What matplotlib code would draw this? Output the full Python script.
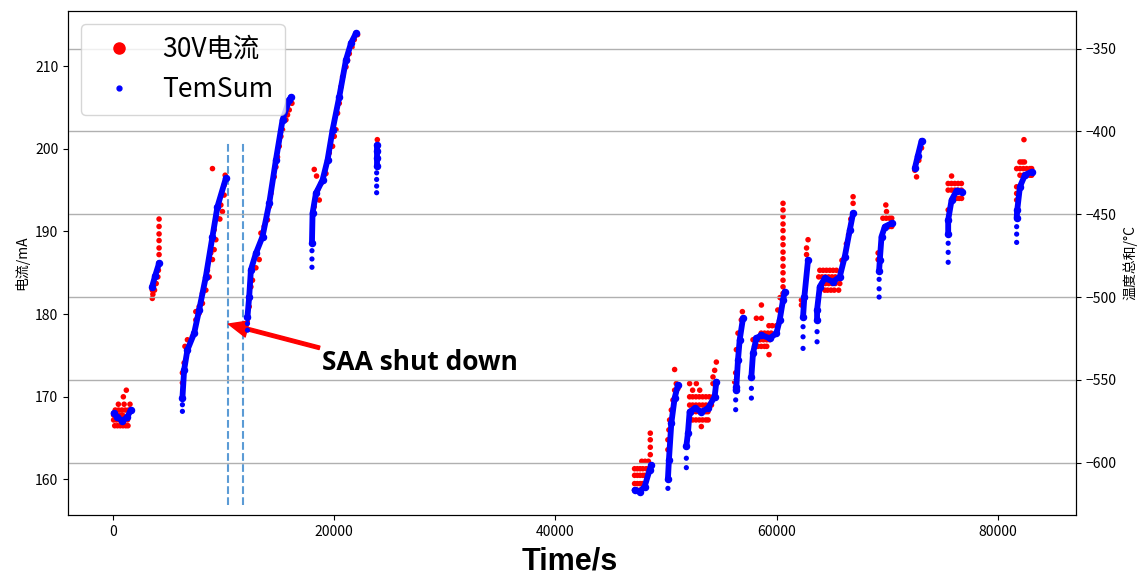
import numpy as np
import matplotlib
matplotlib.use("Agg")
import matplotlib.pyplot as plt
from matplotlib.lines import Line2D

plt.rcParams['font.family'] = ['Noto Sans CJK SC', 'DejaVu Sans']
plt.rcParams['font.size'] = 10

# TemSum (right axis), one list of (time s, value) per run
blue_runs = [
    [(50, -570.2), (400, -572.6), (850, -574.8), (1300, -572.2), (1600, -568.2)],
    [(3530, -493.7), (3800, -487.3), (4160, -479.6)],
    [(6270, -561.1), (6425, -544.0), (6724, -531.9), (7330, -521.9), (7783, -507.8),
     (8389, -487.7), (8987, -463.5), (9439, -445.4), (10199, -428.3)],
    [(12154, -511.8), (12308, -499.8), (12462, -483.6), (12914, -473.6), (13512, -463.5),
     (14118, -443.4), (14724, -417.2), (15322, -393.1), (15928, -381.0), (16082, -379.3)],
    [(17982, -467.5), (18037, -449.4), (18344, -437.3), (18942, -429.3), (19394, -417.2),
     (19847, -399.1), (20453, -379.0), (21059, -356.8), (21512, -346.7), (21964, -340.7)],
    [(23830, -408.2), (23830, -412.0), (23830, -416.0), (23830, -421.0)],
    [(47150, -616.5), (47603, -617.5), (48055, -614.5), (48508, -604.4), (48662, -601.4)],
    [(50164, -610.0), (50255, -598.4), (50472, -576.2), (50771, -561.1), (51069, -553.1)],
    [(51830, -590.0), (51975, -582.2), (52128, -569.2), (52581, -567.1), (53187, -569.2),
     (53784, -567.1), (54391, -560.1), (54544, -551.1)],
    [(56291, -556.0), (56354, -554.1), (56499, -538.0), (56653, -525.9), (56951, -512.8)],
    [(57712, -548.0), (57857, -533.9), (58164, -524.9), (58617, -522.9), (59368, -524.9),
     (59974, -521.9), (60273, -513.8), (60572, -501.8), (60726, -496.7)],
    [(62382, -512.0), (62500, -500.0), (62834, -477.6)],
    [(63649, -514.0), (63649, -507.8), (63893, -493.7), (64346, -488.6), (65097, -490.7),
     (65703, -487.7), (66156, -475.6), (66608, -459.5), (66907, -449.4)],
    [(69260, -484.0), (69323, -477.6), (69477, -463.5), (69776, -457.5), (70382, -455.4)],
    [(72490, -422.2), (72762, -414.6), (73097, -405.6)],
    [(75504, -462.0), (75504, -453.4), (75811, -441.4), (76264, -435.7), (76716, -436.3)],
    [(81694, -452.0), (81749, -447.4), (81993, -433.3), (82446, -426.3), (83052, -424.3)],
]

# sparse TemSum points at the foot of the fast runs
blue_dots = [
    (6270, -565.0), (6270, -569.0), (12154, -516.0), (12154, -520.0), (17982, -472.0),
    (17982, -477.0), (17982, -482.0), (23830, -425.0), (23830, -429.0), (23830, -433.0),
    (23830, -437.0), (50164, -615.5), (51830, -597.3), (51830, -603.0), (56291, -562.1),
    (56291, -568.0), (57712, -555.1), (57712, -561.0), (62382, -517.9), (62382, -524.0),
    (62382, -531.0), (63649, -520.9), (63649, -527.0), (69260, -489.3), (69260, -495.0),
    (69260, -500.0), (75504, -467.5), (75504, -473.0), (75504, -479.0), (81694, -457.5),
    (81694, -462.0), (81694, -467.0),
]

# 30V current (left axis), (time s, mA)
red_c1 = [(1200, 170.8), (930, 170.0), (480, 169.1), (1000, 169.1), (1530, 169.1),
          (200, 168.4), (500, 168.4), (800, 168.4), (1100, 168.4), (1400, 168.4), (1600, 168.4),
          (50, 167.8), (300, 167.8), (600, 167.8), (850, 167.8),
          (50, 167.2), (300, 167.2), (550, 167.2), (800, 167.2), (1050, 167.2), (1300, 167.2),
          (150, 166.5), (400, 166.5), (650, 166.5), (900, 166.5), (1150, 166.5), (1350, 166.5)]
red_c2 = [(4160, 191.5), (4160, 190.6), (4160, 189.7), (4160, 188.9), (4160, 188.0),
          (4160, 187.2), (4160, 186.2), (4100, 185.3), (4050, 184.5), (3900, 183.7),
          (3750, 182.9), (3600, 182.4), (3550, 181.9), (3700, 183.7), (3550, 182.9)]
red_c3 = [(8987, 197.6), (10136, 196.8), (10045, 194.4), (9891, 192.4), (9656, 191.5),
          (9294, 189.0), (9140, 187.8), (8987, 186.6), (8688, 184.5), (8389, 182.9),
          (8082, 181.3), (7783, 180.1), (7484, 179.3), (7177, 177.3), (6724, 176.9),
          (6500, 176.1), (6425, 174.1), (6270, 172.9), (6270, 171.7),
          (7484, 180.3), (7783, 180.9), (8082, 182.5), (8534, 185.3), (8836, 187.4),
          (9140, 190.2), (9439, 191.6), (9747, 193.2), (10045, 195.6)]
red_c4 = [(12308, 180.9), (12462, 183.3), (12914, 185.6), (13213, 186.6), (13367, 189.8),
          (13964, 191.4), (14272, 194.6), (14724, 197.8), (15023, 200.3), (15322, 202.3),
          (15629, 203.5), (15928, 204.7), (16172, 205.5),
          (12607, 184.1), (13666, 190.6), (14118, 193.0), (14570, 196.6), (14869, 199.0),
          (15177, 201.5), (15774, 204.1)]
red_c5 = [(18190, 197.5), (18399, 196.7), (18797, 195.8), (18489, 195.0), (18643, 193.8),
          (18190, 193.0), (19249, 197.0), (19847, 200.3), (20154, 202.3), (20299, 204.3),
          (20607, 207.5), (21059, 209.9), (21358, 211.5), (21811, 213.2), (22109, 213.8),
          (19548, 199.5), (20001, 201.5), (20453, 205.5), (20752, 208.7), (21204, 210.7),
          (21602, 212.3)]
red_c6 = [(23892, 201.1), (23892, 200.3)]
red_c7 = [(48571, 165.6), (48571, 164.8), (48571, 163.9), (48571, 163.0),
          (47800, 162.2), (48100, 162.2), (48400, 162.2),
          (47150, 161.3), (47400, 161.3), (47650, 161.3), (47900, 161.3), (48200, 161.3), (48450, 161.3),
          (47150, 160.5), (47400, 160.5), (47650, 160.5), (47900, 160.5), (48100, 160.5),
          (47150, 159.5), (47400, 159.5), (47650, 159.5), (47850, 159.5),
          (47150, 158.7), (47400, 158.7), (47650, 158.7)]
red_c8 = [(50771, 173.3), (50920, 171.6), (51069, 171.0), (50771, 170.8), (50620, 169.6),
          (50472, 168.4), (50320, 167.2), (50255, 166.0), (50164, 164.8), (50164, 163.6),
          (52128, 171.6), (52734, 171.6), (54240, 171.6), (52400, 170.8), (53040, 170.8),
          (52128, 170.0), (52400, 170.0), (52700, 170.0), (53000, 170.0), (53300, 170.0),
          (53600, 170.0), (53900, 170.0), (54240, 170.0), (54391, 170.0),
          (52128, 169.0), (52400, 169.0), (52700, 169.0), (53000, 169.0), (53300, 169.0),
          (53600, 169.0), (53900, 169.0), (54100, 169.0),
          (52128, 168.2), (52400, 168.2), (52700, 168.2), (53000, 168.2), (53300, 168.2),
          (53600, 168.2), (53784, 168.2),
          (52128, 167.2), (52400, 167.2), (52700, 167.2), (53000, 167.2), (53300, 167.2),
          (53600, 167.2), (53800, 167.2),
          (53187, 166.4), (54240, 172.4), (54391, 173.2), (54544, 174.2)]
red_c9 = [(56897, 180.3), (56800, 179.3), (56499, 177.7), (56354, 175.7), (56291, 172.9),
          (56200, 171.8),
          (57857, 176.9), (58200, 176.9), (58500, 176.9), (58800, 176.9), (59100, 176.9), (59368, 176.9),
          (58000, 176.1), (58300, 176.1), (58600, 176.1), (58900, 176.1), (59100, 176.1),
          (59305, 175.1),
          (58600, 177.7), (58900, 177.7), (59200, 177.7), (59500, 177.7), (59974, 177.7),
          (59300, 178.6), (59600, 178.6), (59974, 178.6),
          (58164, 179.5), (58617, 179.5), (58617, 181.1), (60100, 180.5), (60300, 182.0),
          (60572, 193.4), (60572, 192.6), (60572, 191.8), (60572, 190.9), (60572, 190.1),
          (60572, 189.2), (60572, 188.4), (60572, 187.5), (60572, 186.7), (60572, 185.8),
          (60572, 185.0), (60572, 184.1), (60572, 183.3), (60572, 182.5)]
red_c10 = [(62834, 189.0), (62700, 188.0), (62700, 187.2), (62237, 181.7), (62237, 181.1),
           (63900, 185.3), (64200, 185.3), (64500, 185.3), (64800, 185.3), (65100, 185.3), (65400, 185.3),
           (63800, 184.5), (64100, 184.5), (64400, 184.5), (64700, 184.5), (65000, 184.5),
           (65300, 184.5), (65703, 184.5),
           (64100, 183.7), (64400, 183.7), (64700, 183.7), (65000, 183.7), (65300, 183.7), (65703, 183.7),
           (64346, 182.9), (64600, 182.9), (64900, 182.9), (65200, 182.9), (65600, 182.9),
           (65900, 186.5), (66300, 188.5), (66500, 189.6), (66700, 191.5),
           (66907, 193.4), (66907, 194.2)]
red_c11 = [(69866, 193.2), (69929, 192.4), (69600, 191.6), (69900, 191.6), (70200, 191.6),
           (70400, 191.6), (70200, 190.6), (70400, 190.6), (69169, 187.4), (69169, 186.6)]
red_c12 = [(72644, 196.6), (72490, 197.4), (73097, 200.1), (72850, 198.6)]
red_c13 = [(75811, 196.7),
           (75500, 195.8), (75800, 195.8), (76100, 195.8), (76400, 195.8), (76700, 195.8),
           (75500, 195.0), (75800, 195.0), (76100, 195.0), (76400, 195.0), (76700, 195.0),
           (76264, 194.0), (76500, 194.0), (76716, 194.0), (75504, 192.6)]
red_c14 = [(82355, 201.1), (81993, 198.4), (82200, 198.4), (82400, 198.4),
           (81694, 197.6), (82000, 197.6), (82300, 197.6), (82600, 197.6), (82900, 197.6), (83052, 197.6),
           (81993, 196.8), (82300, 196.8), (82600, 196.8), (82900, 196.8), (83052, 196.8),
           (81694, 195.4), (81694, 194.6), (81694, 193.8)]

red_all = (red_c1 + red_c2 + red_c3 + red_c4 + red_c5 + red_c6 + red_c7 + red_c8 +
           red_c9 + red_c10 + red_c11 + red_c12 + red_c13 + red_c14)
red_t = [p[0] for p in red_all]
red_ma = [p[1] for p in red_all]

shutdown_t = [10380, 11738]

fig = plt.figure(figsize=(11.47, 5.75), dpi=100)
ax1 = fig.add_axes([0.0593, 0.1043, 0.8788, 0.8771])
ax2 = ax1.twinx()

ax1.scatter(red_t, red_ma, s=16, color='red', edgecolors='none', label='30V电流')
ax1.vlines(shutdown_t, 156.9, 200.7, colors='#5b9bd5', linestyles='--', linewidth=1.5)

for run in blue_runs:
    ax2.plot([p[0] for p in run], [p[1] for p in run], color='blue', lw=4.2,
             marker='o', ms=4.4, solid_capstyle='round')
ax2.scatter([p[0] for p in blue_dots], [p[1] for p in blue_dots], s=14,
            color='blue', edgecolors='none')

ax1.set_xlim(-4072, 87060)
ax1.set_ylim(155.7, 216.7)
ax2.set_ylim(-631.6, -327.1)
ax1.set_xticks([0, 20000, 40000, 60000, 80000])
ax1.set_yticks([160, 170, 180, 190, 200, 210])
ax2.set_yticks([-600, -550, -500, -450, -400, -350])
ax2.grid(axis='y', color='#b0b0b0', linewidth=1)
ax2.set_axisbelow(True)

ax1.set_ylabel('电流/mA')
ax2.set_ylabel('温度总和/°C')

ax1.annotate('SAA shut down', xy=(10435, 178.8), xytext=(18915, 174.2),
             fontsize=19, fontweight='bold', family=['Open Sans', 'DejaVu Sans'],
             va='center', ha='left',
             arrowprops=dict(color='red', width=2.5, headwidth=12, headlength=14, shrink=0))

handles = [Line2D([], [], ls='none', marker='o', ms=8, color='red'),
           Line2D([], [], ls='none', marker='o', ms=3.5, color='blue')]
ax2.legend(handles, ['30V电流', 'TemSum'], loc='upper left', fontsize=19,
           handletextpad=0.6, borderpad=0.45, labelspacing=0.5)

fig.text(0.497, 1 - 562 / 575, 'Time/s', fontsize=22, fontweight='bold',
         family=['Liberation Sans', 'DejaVu Sans'], ha='center', va='center')

fig.savefig('out.png', dpi=100)
